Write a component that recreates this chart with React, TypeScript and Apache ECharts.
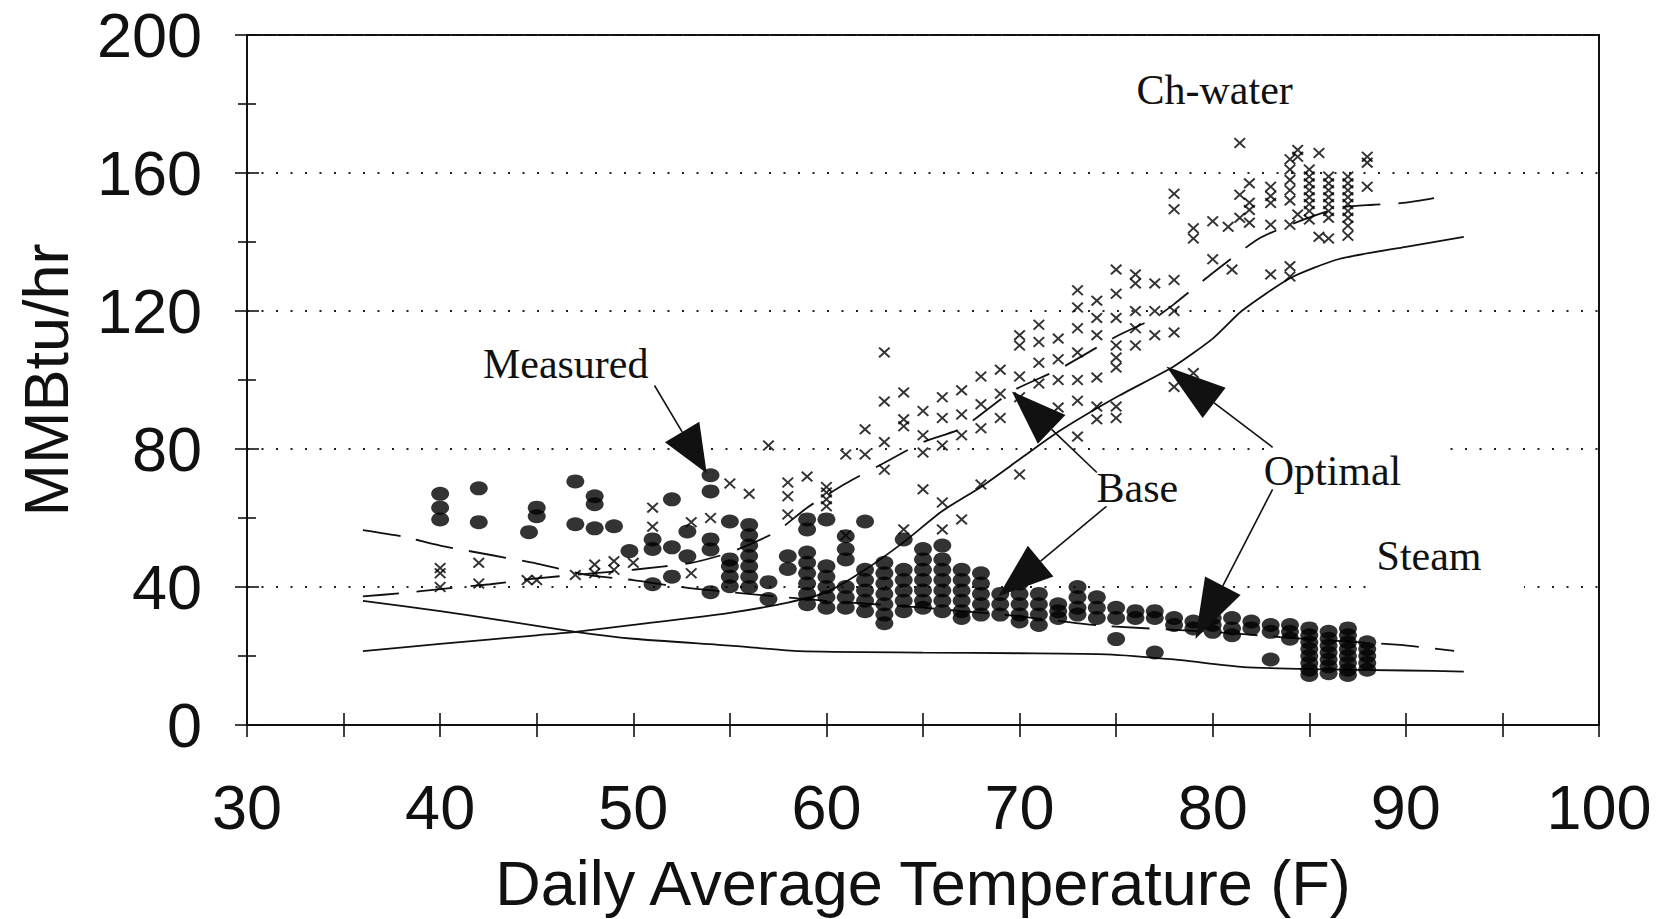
import React, { useEffect, useRef } from "react";
import * as echarts from "echarts";

const xAxisTitle = "Daily Average Temperature (F)";
const yAxisTitle = "MMBtu/hr";

// Measured chilled-water load (x markers)
const chwMeasured: [number, number][] = [
  [40, 45.5], [40, 44], [40, 40], [42, 47], [42, 41], [44.5, 42], [45, 42], [47, 43.5],
  [48, 46.5], [48, 44], [49, 47.5], [49, 45], [50, 47], [51, 63], [51, 57.5], [53, 58.8], [53, 44],
  [54, 60], [55, 70], [56, 67], [57, 81], [58, 70.3], [58, 66.3], [58, 61], [59, 72],
  [60, 69], [60, 67.4], [60, 65.4], [60, 63.4], [61, 78.4], [61, 55], [62, 85.7], [62, 78.4],
  [63, 108], [63, 93.8], [63, 82], [63, 74], [64, 96.4], [64, 88.6], [64, 86.6], [64, 56.7],
  [65, 91], [65, 84], [65, 79], [65, 68.3], [66, 95], [66, 89], [66, 81], [66, 64.5], [66, 56.7],
  [67, 97], [67, 90], [67, 84], [67, 59.6], [68, 101], [68, 93], [68, 86], [68, 69.7],
  [69, 103], [69, 96], [69, 89], [70, 113], [70, 110], [70, 101], [70, 95], [70, 72.6],
  [71, 116], [71, 111], [71, 105], [71, 99], [71, 88], [72, 112], [72, 106], [72, 100], [72, 92],
  [73, 126], [73, 121], [73, 115], [73, 108], [73, 100], [73, 94], [73, 83.6],
  [74, 123], [74, 118], [74, 113], [74, 100.7], [74, 92.3], [74, 88.6],
  [75, 132], [75, 125], [75, 118], [75, 110], [75, 106.5], [75, 103.6], [75, 92.3], [75, 89],
  [76, 130.6], [76, 128], [76, 120], [76, 115], [76, 110], [77, 128], [77, 120], [77, 113],
  [78, 154], [78, 149.5], [78, 129], [78, 120], [78, 113.8], [78, 98], [79, 144], [79, 141], [79, 102],
  [80, 146], [80, 135], [80.8, 144.4], [81, 132], [81.4, 168.7], [81.4, 153.7], [81.4, 147],
  [81.9, 157], [81.9, 151.4], [81.9, 149.3], [81.9, 145.6], [83, 156], [83, 153.3], [83, 151.3],
  [83, 145], [83, 130.6], [84, 164], [84, 161], [84, 158], [84, 155], [84, 152], [84, 145],
  [84, 133], [84, 130], [84.4, 166.7], [84.4, 164.7], [84.4, 148], [85, 161], [85, 159], [85, 157],
  [85, 155], [85, 153], [85, 151], [85, 149], [85, 146.5], [85.5, 165.8], [85.5, 141.5], [86, 159],
  [86, 157], [86, 155], [86, 153], [86, 151], [86, 149], [86, 147], [86, 141], [87, 159], [87, 157],
  [87, 155], [87, 153], [87, 151], [87, 149], [87, 147], [87, 144.7], [87, 141.8], [88, 164.7],
  [88, 163], [88, 156],
];

// Measured steam load (filled dots)
const steamMeasured: [number, number][] = [
  [40, 67], [40, 63], [40, 59.6], [42, 68.6], [42, 58.8], [44.6, 55.9], [45, 63], [45, 60.5],
  [47, 70.6], [47, 58.2], [48, 66.3], [48, 64], [48, 57], [49, 57.6], [49.8, 50.4],
  [51, 53.8], [51, 51], [51, 40.8], [52, 65.4], [52, 51.5], [52, 43], [52.8, 56.1], [52.8, 48.9],
  [54, 72.4], [54, 67.7], [54, 53.8], [54, 50.9], [54, 38.5], [55, 59], [55, 48], [55, 46],
  [55, 43], [55, 40.2], [56, 58], [56, 55], [56, 52], [56, 49], [56, 46], [56, 43], [56, 40],
  [57, 41.4], [57, 36.5], [58, 48.9], [58, 45.2], [59, 59.6], [59, 56.7], [59, 50], [59, 47],
  [59, 44], [59, 41], [59, 38], [59, 35], [60, 59.6], [60, 46], [60, 43], [60, 40], [60, 37],
  [60, 34], [61, 54.7], [61, 51], [61, 48], [61, 40], [61, 37], [61, 34], [62, 59], [62, 45],
  [62, 42], [62, 39], [62, 36], [62, 33], [63, 47], [63, 44], [63, 41], [63, 38], [63, 35],
  [63, 32], [63, 29.5], [64, 53.8], [64, 45], [64, 42], [64, 39], [64, 36], [64, 33],
  [65, 51], [65, 48], [65, 45], [65, 42], [65, 39], [65, 36], [65, 34], [66, 52], [66, 48],
  [66, 45], [66, 42], [66, 39], [66, 36], [66, 33], [67, 45], [67, 42], [67, 39], [67, 36],
  [67, 33], [67, 31], [68, 44], [68, 41], [68, 38], [68, 35], [68, 32], [69, 38], [69, 35],
  [69, 32], [70, 41], [70, 38], [70, 35], [70, 32], [70, 30], [71, 38], [71, 35], [71, 32],
  [71, 29], [72, 35], [72, 33], [72, 31], [73, 40], [73, 37], [73, 34], [73, 32], [74, 37],
  [74, 34], [74, 31], [75, 34], [75, 31], [75, 24.9], [76, 33], [76, 31], [77, 33], [77, 31],
  [77, 21], [78, 31], [78, 29], [79, 30], [79, 28], [80, 31], [80, 29], [80, 27], [81, 31],
  [81, 28], [81, 26], [82, 30], [82, 28], [83, 29], [83, 27], [83, 19], [84, 29], [84, 27],
  [84, 25], [85, 28], [85, 26], [85, 24], [85, 22], [85, 20], [85, 18], [85, 16], [85, 14.5],
  [86, 27], [86, 25], [86, 23], [86, 21], [86, 19], [86, 17], [86, 15], [87, 28], [87, 26],
  [87, 24], [87, 22], [87, 20], [87, 18], [87, 16], [87, 14.5], [88, 24], [88, 22], [88, 20],
  [88, 18], [88, 16],
];

// Simulated curves
const chwBase: [number, number][] = [
  [36, 37.3], [38, 38.2], [40, 39.4], [42.6, 40.8], [45, 42.5], [48, 44], [50, 45], [53, 47],
  [55, 50], [57.4, 56], [59, 63], [61, 70], [63, 76], [65, 82], [67, 86], [69.6, 96.7], [72, 103],
  [75, 112.6], [77, 118], [78, 122], [80, 131], [82.4, 141], [84.7, 146.5], [86.6, 150],
  [88.3, 150.8], [90, 151.4], [92.2, 153.4],
];
const chwOptimal: [number, number][] = [
  [36, 21.4], [40, 23.5], [45, 26], [47, 27], [50, 29], [55, 32.5], [58, 35.5], [60, 38.5],
  [62, 45], [64, 53], [66, 62], [68, 69], [70, 77], [72, 85], [75, 95], [78, 104], [80, 112],
  [81.5, 120], [84, 129.5], [86.5, 135], [90, 138.6], [93, 141.5],
];
const steamBase: [number, number][] = [
  [36, 56.5], [38, 54.7], [40, 52], [42.7, 49.2], [45, 46.8], [47.6, 43.5], [50, 42], [52.4, 40],
  [55, 38.5], [60, 36], [65, 34], [70, 31.5], [74.2, 28.8], [80, 27], [83.5, 25.5], [86, 24.5],
  [89.7, 23.2], [92.5, 21.5],
];
const steamOptimal: [number, number][] = [
  [36, 36], [40, 33], [43, 30.5], [47, 27], [50, 25], [55, 23], [58.6, 21.4], [65, 21], [70, 20.8],
  [74.5, 20.5], [78, 19], [81.6, 16.8], [85, 16.2], [90, 15.8], [93, 15.5],
];

// Annotations (data coordinates)
const labels: { text: string; at: [number, number]; cover?: [number, number, number, number] }[] = [
  { text: "Ch-water", at: [80.1, 184] },
  { text: "Measured", at: [46.5, 104.5] },
  { text: "Base", at: [76.1, 68.6] },
  { text: "Optimal", at: [86.2, 73.5], cover: [-65, -32, 179, 18] },
  { text: "Steam", at: [91.2, 48.9], cover: [-57, 22, 152, 18] },
];
const arrows: { tail: [number, number]; tip: [number, number]; len: number; wid: number }[] = [
  { tail: [51.1, 98.4], tip: [53.8, 73.0], len: 48, wid: 40 },
  { tail: [74.0, 73.2], tip: [69.6, 96.7], len: 55, wid: 40 },
  { tail: [74.5, 63.4], tip: [68.9, 37.3], len: 55, wid: 40 },
  { tail: [83.1, 80.5], tip: [77.6, 103.9], len: 60, wid: 38 },
  { tail: [83.1, 68.3], tip: [79.1, 24.9], len: 60, wid: 40 },
];

const INK = "#111";
const SANS = "'Liberation Sans', Arial, Helvetica, sans-serif";
const SERIF = "'Liberation Serif', 'Times New Roman', serif";
const CROSS = "path://M0,12L12,0L50,38L88,0L100,12L62,50L100,88L88,100L50,62L12,100L0,88L38,50Z";

export default function App() {
  const ref = useRef<HTMLDivElement>(null);
  useEffect(() => {
    if (!ref.current) return;
    const chart = echarts.init(ref.current, null, { renderer: "svg" });
    const tickStyle = { color: INK, width: 1.6 };
    const option: any = {
      animation: false,
      backgroundColor: "#fff",
      grid: { left: 247, right: 58, top: 35, bottom: 193, show: true, borderColor: INK, borderWidth: 2 },
      xAxis: [
        {
          type: "value", min: 30, max: 100, interval: 10, position: "bottom",
          axisLine: { show: true, onZero: false, lineStyle: { color: INK, width: 2 } },
          axisTick: { show: true, inside: false, length: 12, lineStyle: tickStyle },
          minorTick: { show: true, splitNumber: 2, length: 12, lineStyle: tickStyle },
          axisLabel: { fontFamily: SANS, fontSize: 63, color: INK, margin: 50 },
          splitLine: { show: false },
          name: xAxisTitle, nameLocation: "middle", nameGap: 126,
          nameTextStyle: { fontFamily: SANS, fontSize: 63, color: INK },
        },
        {
          type: "value", min: 30, max: 100, interval: 10, position: "bottom",
          axisLine: { show: false },
          axisTick: { show: true, inside: true, length: 12, lineStyle: tickStyle },
          minorTick: { show: true, splitNumber: 2, length: 12, lineStyle: tickStyle },
          axisLabel: { show: false }, splitLine: { show: false },
        },
      ],
      yAxis: [
        {
          type: "value", min: 0, max: 200, interval: 40, position: "left",
          axisLine: { show: true, onZero: false, lineStyle: { color: INK, width: 2 } },
          axisTick: { show: true, inside: false, length: 12, lineStyle: tickStyle },
          minorTick: { show: true, splitNumber: 2, length: 9, lineStyle: tickStyle },
          axisLabel: { fontFamily: SANS, fontSize: 63, color: INK, margin: 45 },
          splitLine: { show: true, lineStyle: { color: "#222", width: 2.2, type: [2, 12.5] } },
          name: yAxisTitle, nameLocation: "middle", nameGap: 170,
          nameTextStyle: { fontFamily: SANS, fontSize: 63, color: INK },
        },
        {
          type: "value", min: 0, max: 200, interval: 40, position: "left",
          axisLine: { show: false },
          axisTick: { show: true, inside: true, length: 12, lineStyle: tickStyle },
          minorTick: { show: true, splitNumber: 2, length: 9, lineStyle: tickStyle },
          axisLabel: { show: false }, splitLine: { show: false },
        },
      ],
      series: [
        { type: "line", data: steamBase, showSymbol: false, smooth: 0.2, lineStyle: { color: INK, width: 1.8, type: [38, 16] }, z: 3 },
        { type: "line", data: chwBase, showSymbol: false, smooth: 0.2, lineStyle: { color: INK, width: 1.8, type: [36, 18] }, z: 3 },
        { type: "line", data: steamOptimal, showSymbol: false, smooth: 0.2, lineStyle: { color: INK, width: 1.8 }, z: 3 },
        { type: "line", data: chwOptimal, showSymbol: false, smooth: 0.2, lineStyle: { color: INK, width: 1.8 }, z: 3 },
        { type: "scatter", data: chwMeasured, symbol: CROSS, symbolSize: [12, 11], itemStyle: { color: "#000" }, z: 4 },
        { type: "scatter", data: steamMeasured, symbol: "circle", symbolSize: [18, 14], itemStyle: { color: "#000" }, z: 5 },
      ],
    };
    chart.setOption(option);

    const px = (p: [number, number]) => chart.convertToPixel({ xAxisIndex: 0, yAxisIndex: 0 }, p) as number[];
    const graphics: any[] = [];
    labels.forEach((l) => {
      const [x, y] = px(l.at);
      if (l.cover) {
        graphics.push({ type: "rect", z: 20, shape: { x: x + l.cover[0], y: y + l.cover[1], width: l.cover[2], height: l.cover[3] }, style: { fill: "#fff" } });
      }
      graphics.push({ type: "text", z: 22, x, y, style: { text: l.text, fontFamily: SERIF, fontSize: 42, fill: INK, align: "center", verticalAlign: "middle" } });
    });
    arrows.forEach((a) => {
      const [tx, ty] = px(a.tail);
      const [hx, hy] = px(a.tip);
      const dx = hx - tx, dy = hy - ty;
      const d = Math.hypot(dx, dy);
      const ux = dx / d, uy = dy / d;
      const bx = hx - ux * a.len, by = hy - uy * a.len;
      const nx = -uy, ny = ux;
      graphics.push({ type: "line", z: 21, shape: { x1: tx, y1: ty, x2: bx, y2: by }, style: { stroke: INK, lineWidth: 1.6 } });
      graphics.push({
        type: "polygon", z: 21,
        shape: { points: [[hx, hy], [bx + (nx * a.wid) / 2, by + (ny * a.wid) / 2], [bx - (nx * a.wid) / 2, by - (ny * a.wid) / 2]] },
        style: { fill: "#111" },
      });
    });
    chart.setOption({ graphic: graphics });
    return () => chart.dispose();
  }, []);
  return <div ref={ref} style={{ position: "fixed", left: 0, top: 0, width: 1657, height: 919, background: "#fff" }} />;
}
